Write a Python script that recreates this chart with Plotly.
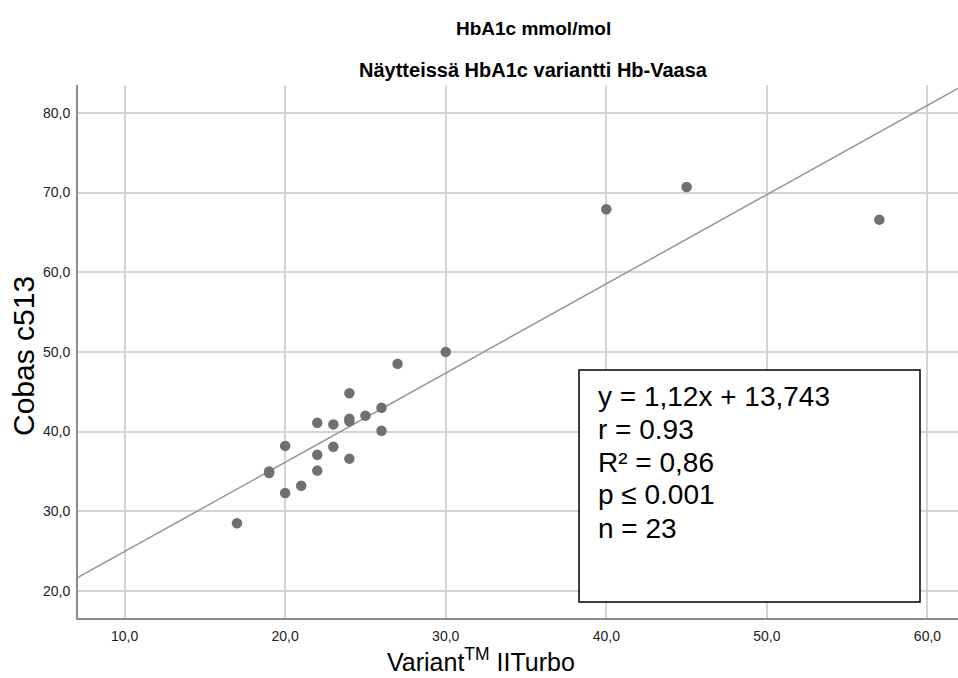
import plotly.graph_objects as go

# ---- data ----
x_variant = [17, 19, 19, 20, 20, 21, 22, 22, 22, 23, 23, 24, 24, 24, 24, 25, 26, 26, 27, 30, 40, 45, 57]
y_cobas = [28.5, 35.0, 34.8, 38.2, 32.3, 33.2, 35.1, 37.1, 41.1, 40.9, 38.1, 44.8, 41.3, 41.6, 36.6,
           42.0, 43.0, 40.1, 48.5, 50.0, 67.9, 70.7, 66.6]
fit_slope = 1.12
fit_intercept = 13.743
x_ticks = [10, 20, 30, 40, 50, 60]
x_ticklabels = ["10,0", "20,0", "30,0", "40,0", "50,0", "60,0"]
y_ticks = [20, 30, 40, 50, 60, 70, 80]
y_ticklabels = ["20,0", "30,0", "40,0", "50,0", "60,0", "70,0", "80,0"]
stats_lines = ["y = 1,12x + 13,743", "r = 0.93", "R² = 0,86", "p ≤ 0.001", "n = 23"]
title_text = "HbA1c mmol/mol"
subtitle_text = "Näytteissä HbA1c variantti Hb-Vaasa"
x_title = "Variant<sup>TM</sup> IITurbo"
y_title = "Cobas c513"

# ---- layout geometry ----
W, H = 958, 678
L, R, T, B = 78, 0, 85, 60
x_range = [7.1, 61.9]
y_range = [16.6, 83.5]


def px_x(px):
    return (px - L) / (W - L - R)


def px_y(py):
    return (H - B - py) / (H - T - B)


FONT = "Liberation Sans, Arial, sans-serif"

fig = go.Figure()

# regression line across the visible x range
fit_x = list(x_range)
fit_y = [fit_slope * v + fit_intercept for v in fit_x]
fig.add_trace(go.Scatter(x=fit_x, y=fit_y, mode="lines",
                         line=dict(color="#969696", width=1.5),
                         hoverinfo="skip", showlegend=False))

fig.add_trace(go.Scatter(x=x_variant, y=y_cobas, mode="markers",
                         marker=dict(color="#707070", size=10.5, line=dict(width=0)),
                         showlegend=False))

fig.update_layout(
    width=W, height=H,
    margin=dict(l=L, r=R, t=T, b=B),
    paper_bgcolor="white", plot_bgcolor="white",
    font=dict(family=FONT, color="#222222"),
    xaxis=dict(range=x_range, tickvals=x_ticks, ticktext=x_ticklabels,
               showgrid=True, gridcolor="#d4d4d4", gridwidth=1.5,
               zeroline=False, showline=True, linecolor="#8c8c8c", linewidth=2,
               ticks="outside", ticklen=4, tickcolor="rgba(0,0,0,0)",
               tickfont=dict(size=14, color="#222222", family=FONT)),
    yaxis=dict(range=y_range, tickvals=y_ticks, ticktext=y_ticklabels,
               showgrid=True, gridcolor="#d4d4d4", gridwidth=1.5,
               zeroline=False, showline=True, linecolor="#8c8c8c", linewidth=2,
               ticks="outside", ticklen=3, tickcolor="rgba(0,0,0,0)",
               tickfont=dict(size=14, color="#222222", family=FONT)),
)

# statistics box
fig.add_shape(type="rect", xref="paper", yref="paper",
              x0=px_x(579), x1=px_x(920), y0=px_y(602), y1=px_y(370),
              line=dict(color="black", width=1.5), fillcolor="white", layer="above")

annotations = []
line_centers = [396, 429, 462, 495, 528]
for txt, cy in zip(stats_lines, line_centers):
    annotations.append(dict(text=txt, xref="paper", yref="paper", x=px_x(596), y=px_y(cy),
                            xanchor="left", yanchor="middle", showarrow=False,
                            font=dict(size=28, color="black", family=FONT)))

annotations.append(dict(text="<b>" + title_text + "</b>", xref="paper", yref="paper",
                        x=px_x(533), y=px_y(28), xanchor="center", yanchor="middle",
                        showarrow=False, font=dict(size=19, color="black", family=FONT)))
annotations.append(dict(text="<b>" + subtitle_text + "</b>", xref="paper", yref="paper",
                        x=px_x(533), y=px_y(70), xanchor="center", yanchor="middle",
                        showarrow=False, font=dict(size=20, color="black", family=FONT)))
annotations.append(dict(text=x_title, xref="paper", yref="paper",
                        x=px_x(481), y=px_y(660), xanchor="center", yanchor="middle",
                        showarrow=False, font=dict(size=25, color="black", family=FONT)))
annotations.append(dict(text=y_title, xref="paper", yref="paper", textangle=-90,
                        x=px_x(23), y=px_y(356), xanchor="center", yanchor="middle",
                        showarrow=False, font=dict(size=30, color="black", family=FONT)))
fig.update_layout(annotations=annotations)

fig.write_html("out.html")
